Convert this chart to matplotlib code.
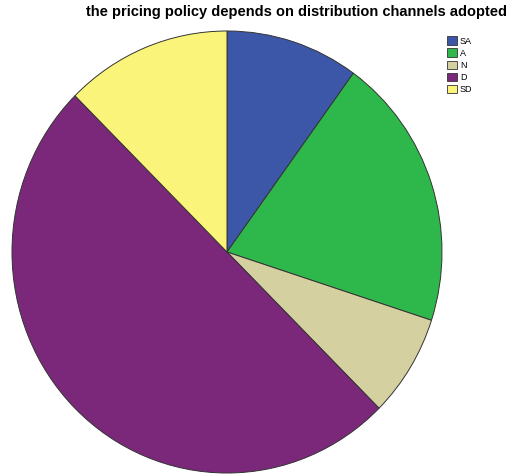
import matplotlib
matplotlib.use('Agg')
import matplotlib.pyplot as plt
from matplotlib.patches import Patch

# Response counts per category (clockwise from 12 o'clock)
labels = ['SA', 'A', 'N', 'D', 'SD']
counts = [4, 8, 3, 20, 5]
colors = ['#3D57A8', '#2EB84C', '#D5D0A0', '#7B287B', '#FAF57A']

fig = plt.figure(figsize=(5.12, 4.75), dpi=100)
fig.patch.set_facecolor('white')

# pie axes spans the (slightly taller than wide) ellipse
ax = fig.add_axes([12 / 512, 2 / 475, 430 / 512, 442 / 475])
ax.pie(counts, colors=colors, startangle=90, counterclock=False,
       wedgeprops=dict(edgecolor='#333333', linewidth=0.7))
ax.set_aspect('auto')
ax.set_xlim(-1, 1)
ax.set_ylim(-1, 1)
ax.axis('off')

fig.text(297 / 512, 1 - 12 / 475, 'the pricing policy depends on distribution channels adopted',
         ha='center', va='center', fontsize=10.5, fontweight='bold',
         family='Liberation Sans')

handles = [Patch(facecolor=c, edgecolor='#333333', linewidth=0.6) for c in colors]
fig.legend(handles, labels, loc='upper left', bbox_to_anchor=(441 / 512, 1 - 30 / 475),
           frameon=False, handlelength=1.1, handleheight=1.1,
           handletextpad=0.3, labelspacing=0.3, borderpad=0.2,
           prop={'family': 'Liberation Sans', 'size': 6.5})

fig.savefig('out.png', dpi=100)
